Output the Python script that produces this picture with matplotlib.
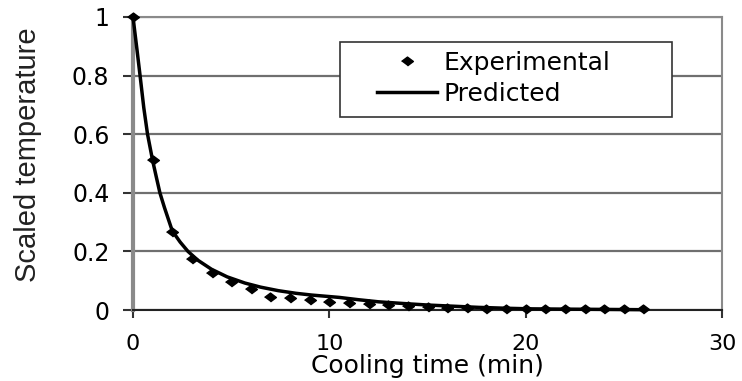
import matplotlib
matplotlib.use("Agg")
import matplotlib.pyplot as plt
from matplotlib.patches import Rectangle

# Experimental readings, 1-min steps
exp_time = [0, 1, 2, 3, 4, 5, 6, 7, 8, 9, 10, 11, 12, 13, 14, 15, 16, 17, 18,
            19, 20, 21, 22, 23, 24, 25, 26]
exp_temp = [1.0, 0.512, 0.265, 0.175, 0.127, 0.097, 0.071, 0.046, 0.041, 0.034,
            0.028, 0.025, 0.019, 0.016, 0.012, 0.010, 0.008, 0.006, 0.004,
            0.003, 0.002, 0.002, 0.002, 0.002, 0.003, 0.003, 0.003]

# Predicted curve
pred_time = [0, 0.2, 0.36, 0.55, 0.74, 1.0, 1.2, 1.37, 1.6, 2.0, 2.4, 2.8, 3.3,
             4.0, 4.8, 5.7, 6.5, 7.4, 8.3, 9.1, 10.5, 11.5, 12.5, 13.8, 15.0,
             16.3, 17.6, 19.0, 20.2, 22.0, 24.0, 26.0]
pred_temp = [1.0, 0.89, 0.8, 0.69, 0.6, 0.51, 0.45, 0.4, 0.35, 0.27, 0.232,
             0.2, 0.17, 0.139, 0.113, 0.092, 0.078, 0.066, 0.057, 0.051, 0.043,
             0.035, 0.028, 0.022, 0.017, 0.013, 0.009, 0.006, 0.004, 0.003,
             0.002, 0.001]

x_ticks = [0, 10, 20, 30]
y_ticks = [0, 0.2, 0.4, 0.6, 0.8, 1.0]
y_tick_labels = ["0", "0.2", "0.4", "0.6", "0.8", "1"]

plt.rcParams["font.family"] = ["DejaVu Sans"]

fig = plt.figure(figsize=(7.42, 3.81), dpi=100)
ax = fig.add_axes([133 / 742, 71 / 381, 589 / 742, 293 / 381])

ax.set_xlim(0, 30)
ax.set_ylim(0, 1)
ax.set_xticks(x_ticks)
ax.set_yticks(y_ticks)
ax.set_yticklabels(y_tick_labels)

ax.yaxis.grid(True, color="#6f6f6f", linewidth=1.6)
ax.set_axisbelow(True)

for side in ["top", "right"]:
    ax.spines[side].set_color("#8a8a8a")
    ax.spines[side].set_linewidth(1.5)
ax.spines["left"].set_color("#8a8a8a")
ax.spines["left"].set_linewidth(3)
ax.spines["bottom"].set_color("#222222")
ax.spines["bottom"].set_linewidth(1.5)

ax.tick_params(axis="y", direction="out", length=7, width=1.5, color="#333333",
               pad=10, labelsize=17)
ax.tick_params(axis="x", direction="out", length=6, width=1.5, color="#333333",
               pad=11, labelsize=16)

diamond = [(-1, 0), (0, 0.75), (1, 0), (0, -0.75)]
ax.plot(pred_time, pred_temp, color="black", linewidth=2.5, label="Predicted",
        clip_on=False, zorder=3)
ax.plot(exp_time, exp_temp, linestyle="none", marker=diamond, markersize=8.5,
        color="black", label="Experimental", clip_on=False, zorder=4)

ax.set_xlabel("Cooling time (min)", fontsize=18, labelpad=0)
ax.set_ylabel("Scaled temperature", fontsize=21, family=["Liberation Sans"],
              color="#222222")
ax.yaxis.set_label_coords(-0.155, 0.53)

# legend box
ax.add_patch(Rectangle((0.351, 0.659), 0.564, 0.256, transform=ax.transAxes,
                       facecolor="white", edgecolor="#333333", linewidth=1.2,
                       zorder=5))
handles, labels = ax.get_legend_handles_labels()
leg = ax.legend(handles[::-1], labels[::-1], loc="upper left",
                bbox_to_anchor=(0.414, 0.885), frameon=False, fontsize=18,
                handlelength=2.4, handletextpad=0.25, labelspacing=0.3,
                borderpad=0, borderaxespad=0)
leg.set_zorder(6)

fig.savefig("out.png", dpi=100)
